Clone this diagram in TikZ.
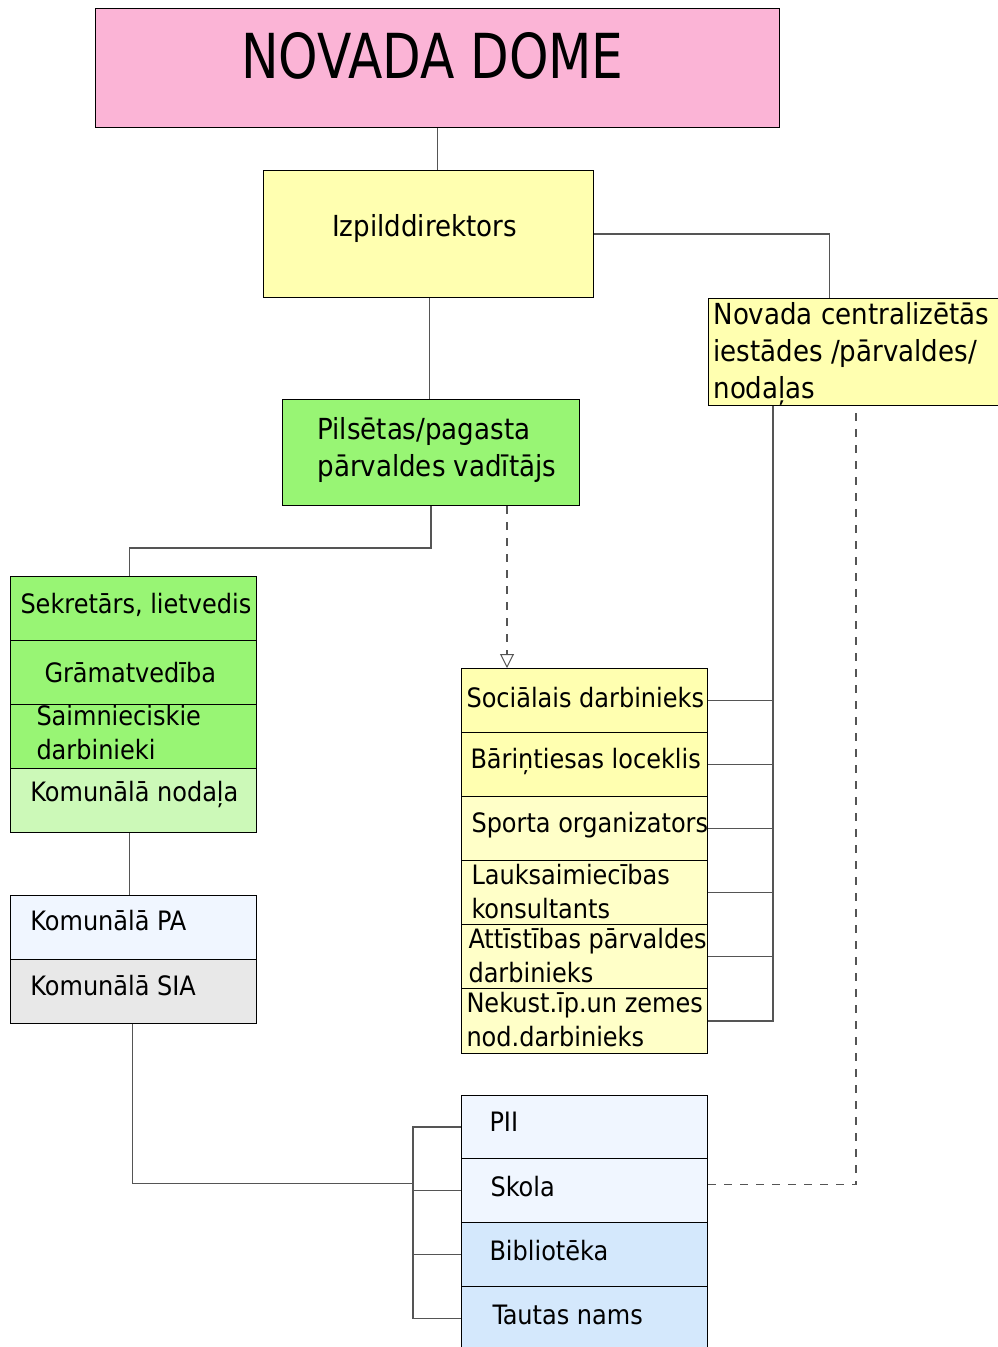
\documentclass[tikz,border=0pt]{standalone}
\usepackage{fontspec}
\setmainfont{DejaVu Sans Condensed}
\newfontfamily\domefont[FakeStretch=0.9]{DejaVu Sans Condensed}
\usetikzlibrary{arrows.meta}
\usetikzlibrary{positioning}
\definecolor{dome-pink}{RGB}{251, 180, 214}
\definecolor{dir-yellow}{RGB}{255, 255, 176}
\definecolor{pale-yellow}{RGB}{255, 255, 200}
\definecolor{leaf-green}{RGB}{152, 245, 116}
\definecolor{pale-green}{RGB}{204, 249, 184}
\definecolor{ice-blue}{RGB}{240, 246, 255}
\definecolor{sky-blue}{RGB}{212, 232, 252}
\definecolor{light-grey}{RGB}{232, 232, 232}
\definecolor{line-grey}{RGB}{85, 85, 85}

\newcommand{\txtsize}{\fontsize{26.7}{34}\selectfont}
\newcommand{\bigtxt}{\fontsize{29}{37}\selectfont}

\tikzset{
  cell/.style={draw=black, fill=#1, anchor=north west, minimum width=246pt, minimum height=64pt, inner sep=0pt},
  txt/.style={anchor=west, inner sep=0pt, align=left, font=\txtsize},
  wire/.style={draw=line-grey, line width=1.2pt},
  dwire/.style={wire, dash pattern=on 8pt off 8pt}
}

\begin{document}
\begin{tikzpicture}[x=1pt, y=-1pt, line width=1pt]
\useasboundingbox (0,0) rectangle (997,1347);

% top of the tree
\node[cell=dome-pink, minimum width=684pt, minimum height=119pt,
  label={[anchor=center, inner sep=0pt, font=\domefont\fontsize{62}{70}\selectfont, xshift=-5pt, yshift=12pt]center:NOVADA DOME}] (dome) at (95,8) {};
\node[cell=dir-yellow, minimum width=330pt, minimum height=127pt,
  label={[txt, font=\bigtxt, anchor=center, xshift=-4pt, yshift=6pt]center:Izpilddirektors}] (izp) at (263,170) {};
\node[cell=dir-yellow, minimum width=300pt, minimum height=107pt,
  label={[txt, font=\bigtxt, xshift=5pt, yshift=-2pt]west:Novada centralizētās\\iestādes /pārvaldes/\\nodaļas}] (novc) at (708,298) {};
\node[cell=leaf-green, minimum width=297pt, minimum height=106pt,
  label={[txt, font=\bigtxt, xshift=35pt, yshift=3pt]west:Pilsētas/pagasta\\pārvaldes vadītājs}] (pils) at (282,399) {};

% left column
\node[cell=leaf-green, label={[txt, xshift=10pt, yshift=4pt]west:Sekretārs, lietvedis}] (sek) at (10,576) {};
\node[cell=leaf-green, label={[txt, xshift=34pt]west:Grāmatvedība}] (gram) at (10,640) {};
\node[cell=leaf-green, label={[txt, xshift=26pt, yshift=4pt]west:Saimnieciskie\\darbinieki}] (saim) at (10,704) {};
\node[cell=pale-green, label={[txt, xshift=20pt, yshift=6pt]west:Komunālā nodaļa}] (kn) at (10,768) {};
\node[cell=ice-blue, label={[txt, xshift=20pt, yshift=7pt]west:Komunālā PA}] (kpa) at (10,895) {};
\node[cell=light-grey, label={[txt, xshift=20pt, yshift=6pt]west:Komunālā SIA}] (sia) at (10,959) {};

% middle column
\node[cell=dir-yellow, label={[txt, xshift=5pt, yshift=3pt]west:Sociālais darbinieks}] (soc) at (461,668) {};
\node[cell=dir-yellow, label={[txt, xshift=9pt, yshift=3pt]west:Bāriņtiesas loceklis}] (bar) at (461,732) {};
\node[cell=pale-yellow, label={[txt, xshift=10pt, yshift=3pt]west:Sporta organizators}] (spo) at (461,796) {};
\node[cell=pale-yellow, label={[txt, xshift=10pt, yshift=1pt]west:Lauksaimiecības\\konsultants}] (lau) at (461,860) {};
\node[cell=pale-yellow, label={[txt, xshift=7pt, yshift=1pt]west:Attīstības pārvaldes\\darbinieks}] (att) at (461,924) {};
\node[cell=pale-yellow, minimum height=65pt, label={[txt, xshift=5pt, yshift=1pt]west:Nekust.īp.un zemes\\nod.darbinieks}] (nek) at (461,988) {};

% bottom column
\node[cell=ice-blue, minimum height=63pt, label={[txt, xshift=28pt, yshift=5pt]west:PII}] (pii) at (461,1095) {};
\node[cell=ice-blue, label={[txt, xshift=29pt, yshift=4pt]west:Skola}] (skola) at (461,1158) {};
\node[cell=sky-blue, label={[txt, xshift=28pt, yshift=4pt]west:Bibliotēka}] (bib) at (461,1222) {};
\node[cell=sky-blue, label={[txt, xshift=31pt, yshift=4pt]west:Tautas nams}] (tn) at (461,1286) {};

\coordinate (trunk) at (773,0);
\coordinate (dtrunk) at (856,0);
\coordinate (brk) at (413,0);

% connectors
\draw[wire] (dome.south) -- (dome.south |- izp.north);
\draw[wire] ([xshift=1pt]izp.south) -- ([xshift=1pt]izp.south |- pils.north);
\draw[wire] (izp.east) -| ([xshift=-29pt]novc.north);
\draw[wire] (novc.south -| trunk) |- (nek.east);
\foreach \r in {soc,bar,spo,lau,att}
  \draw[wire] (\r.east) -- (\r.east -| trunk);
\draw[dwire] ([yshift=6pt]skola.east) -| (novc.south -| dtrunk);
\draw[wire] (pils.south) -- ++(0,42) -| ([xshift=-4pt]sek.north);
\draw[dwire, -{Triangle[open, length=14pt, width=14pt, line width=1pt]}] ([xshift=76pt]pils.south) -- ([xshift=76pt]pils.south |- soc.north);
\draw[wire] ([xshift=-4pt]kn.south) -- ([xshift=-4pt]kpa.north);
\draw[wire] ([xshift=-1pt]sia.south) |- ([yshift=7pt]skola.west -| brk);
\draw[wire] (pii.west) -| (brk |- tn.west) -- (tn.west);
\foreach \r in {skola,bib}
  \draw[wire] (\r.west) -- (\r.west -| brk);
\end{tikzpicture}
\end{document}
